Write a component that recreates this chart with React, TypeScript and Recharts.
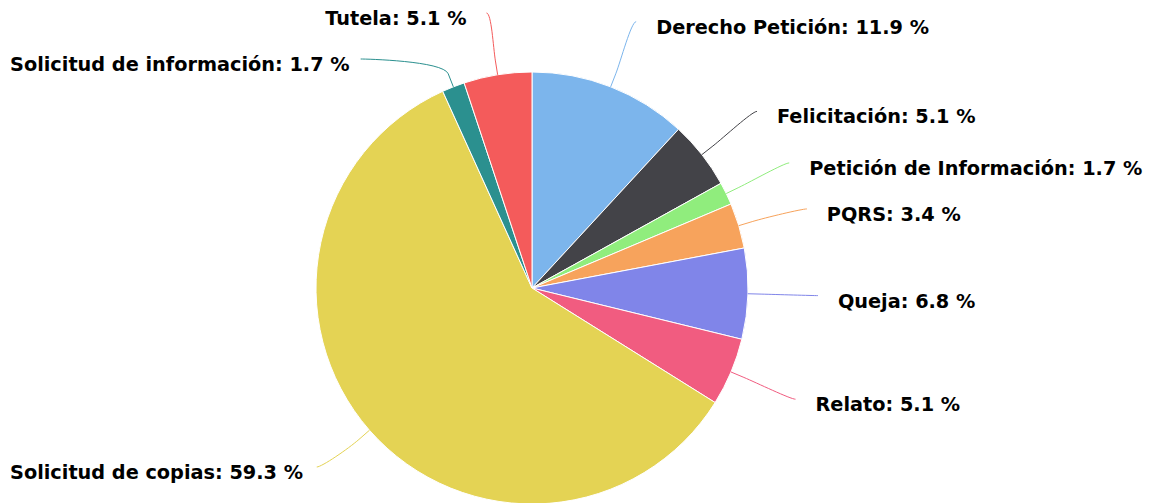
import { PieChart, Pie, Cell } from "recharts";

const categories = [
  "Derecho Petición",
  "Felicitación",
  "Petición de Información",
  "PQRS",
  "Queja",
  "Relato",
  "Solicitud de copias",
  "Solicitud de información",
  "Tutela",
];
const counts = [7, 3, 1, 2, 4, 3, 35, 1, 3];
const colors = [
  "#7cb5ec",
  "#434348",
  "#90ed7d",
  "#f7a35c",
  "#8085e9",
  "#f15c80",
  "#e4d354",
  "#2b908f",
  "#f45b5b",
];

const data = categories.map((name, i) => ({ name, value: counts[i], color: colors[i] }));

const W = 1156;
const H = 503;
const CX = 532;
const CY = 288;
const R = 216;
const LABEL_DIST = 70;
const LABEL_GAP = 46;
const MIN_Y = 13;
const MAX_Y = 467;
const FONT_SIZE = 19.3;
const FONT_FAMILY = '"DejaVu Sans", Verdana, sans-serif';
const RAD = Math.PI / 180;

let ctx: CanvasRenderingContext2D | null = null;
function textWidth(s: string) {
  if (!ctx) ctx = document.createElement("canvas").getContext("2d");
  if (!ctx) return s.length * FONT_SIZE * 0.6;
  ctx.font = `bold ${FONT_SIZE}px ${FONT_FAMILY}`;
  return ctx.measureText(s).width;
}

// highcharts-like label placement: natural spot on a wider circle, then spread per side
function layoutLabels() {
  const total = counts.reduce((a, b) => a + b, 0);
  const lr = R + LABEL_DIST;
  let acc = 0;
  const items = counts.map((v, i) => {
    const mid = 90 - ((acc + v / 2) / total) * 360;
    acc += v;
    const nx = CX + lr * Math.cos(mid * RAD);
    const ny = CY - lr * Math.sin(mid * RAD);
    return { i, nx, ny, y: ny, x: nx, left: nx < CX };
  });
  const getX = (y: number, left: boolean) => {
    const d = Math.max(-1, Math.min(1, (y - CY) / lr));
    return CX + (left ? -1 : 1) * lr * Math.cos(Math.asin(d));
  };
  [true, false].forEach((left) => {
    const side = items.filter((it) => it.left === left).sort((a, b) => a.ny - b.ny);
    side.forEach((it, k) => {
      let y = Math.max(it.ny, MIN_Y);
      if (k > 0) y = Math.max(y, side[k - 1].y + LABEL_GAP);
      it.y = y;
    });
    for (let k = side.length - 1; k >= 0; k--) {
      let y = Math.min(side[k].y, MAX_Y);
      if (k < side.length - 1) y = Math.min(y, side[k + 1].y - LABEL_GAP);
      side[k].y = y;
    }
    side.forEach((it) => {
      const atBound = it.y === MIN_Y || it.y === MAX_Y;
      it.x = getX(atBound ? it.ny : it.y, left);
    });
  });
  return items;
}

const labelPos = layoutLabels();

function renderLabel(props: any) {
  const { cx, cy, midAngle, outerRadius, index, percent, name } = props;
  const pos = labelPos[index];
  const cos = Math.cos(midAngle * RAD);
  const sin = Math.sin(midAngle * RAD);
  const tx = cx + outerRadius * cos;
  const ty = cy - outerRadius * sin;
  const bx = cx + (outerRadius + 14) * cos;
  const by = cy - (outerRadius + 14) * sin;
  const { x, y, left } = pos;
  const path = `M ${x} ${y} C ${x + (left ? 5 : -5)} ${y} ${2 * bx - tx} ${2 * by - ty} ${bx} ${by} L ${tx} ${ty}`;
  const text = `${name}: ${(percent * 100).toFixed(1)} %`;
  let textX = left ? x - 20 : x + 20;
  let anchor: "start" | "end" = left ? "end" : "start";
  if (left) {
    const w = textWidth(text);
    if (textX - w < 10) {
      textX = 10;
      anchor = "start";
    }
  }
  return (
    <g key={`lbl-${index}`}>
      <path d={path} fill="none" stroke={colors[index]} strokeWidth={1} />
      <text
        x={textX}
        y={y + 12}
        textAnchor={anchor}
        fill="#000000"
        fontFamily={FONT_FAMILY}
        fontSize={FONT_SIZE}
        fontWeight="bold"
      >
        {text}
      </text>
    </g>
  );
}

export default function App() {
  return (
    <div style={{ position: "absolute", left: 0, top: 0, background: "#ffffff" }}>
      <PieChart width={W} height={H} margin={{ top: 0, right: 0, bottom: 0, left: 0 }}>
        <Pie
          data={data}
          dataKey="value"
          nameKey="name"
          cx={CX}
          cy={CY}
          outerRadius={R}
          startAngle={90}
          endAngle={-270}
          stroke="#ffffff"
          strokeWidth={1}
          label={renderLabel}
          labelLine={false}
          isAnimationActive={false}
        >
          {data.map((d) => (
            <Cell key={d.name} fill={d.color} />
          ))}
        </Pie>
      </PieChart>
    </div>
  );
}
